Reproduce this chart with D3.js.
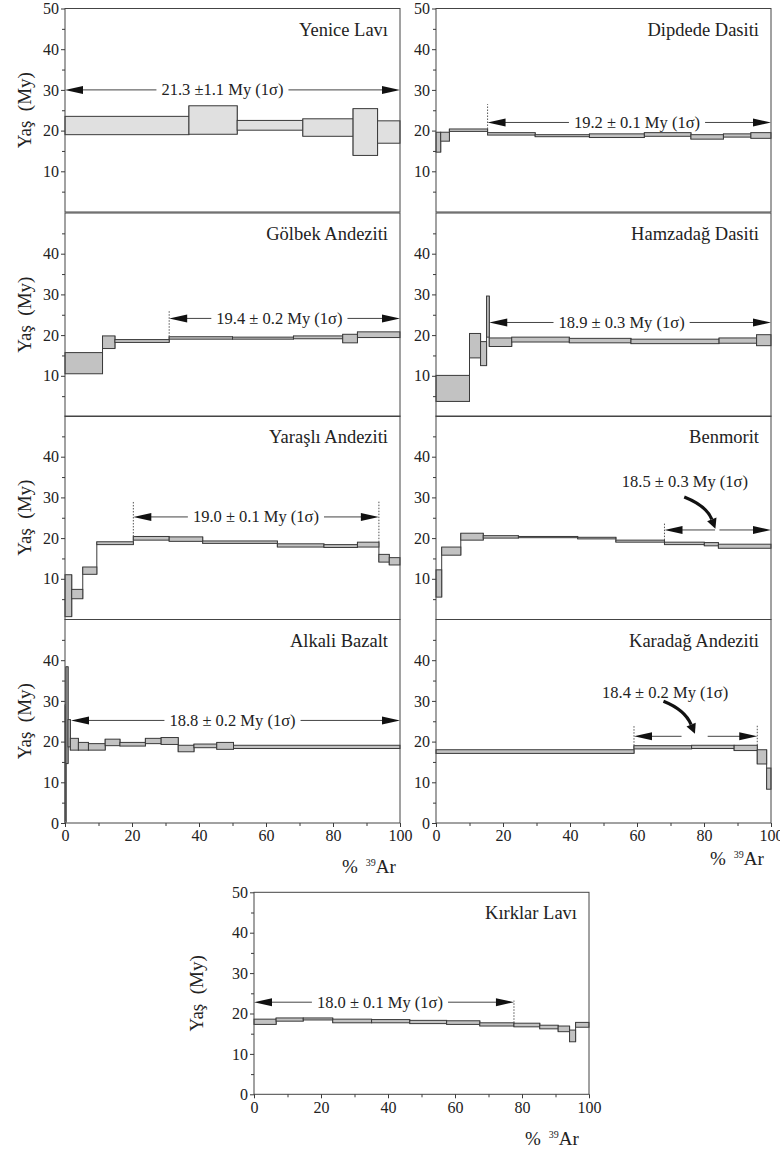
<!DOCTYPE html>
<html>
<head>
<meta charset="utf-8">
<script src="https://cdn.jsdelivr.net/npm/d3@7"></script>
</head>
<body style="margin:0;background:#fff">
<div class="canvas"></div>
<script>
// ---- data: step boundaries (cumulative % 39Ar), upper and lower age (My) of each step ----
const sampleNames = ['Yenice Lavı', 'Dipdede Dasiti', 'Gölbek Andeziti', 'Hamzadağ Dasiti',
    'Yaraşlı Andeziti', 'Benmorit', 'Alkali Bazalt', 'Karadağ Andeziti', 'Kırklar Lavı'];

const yeniceSteps = [0, 37, 51.4, 71, 86, 93.3, 100];
const yeniceHi = [23.5, 26.1, 22.5, 22.9, 25.4, 22.4];
const yeniceLo = [19.0, 19.1, 20.1, 18.6, 13.9, 16.9];

const dipdedeSteps = [0, 1.4, 4, 15.4, 29.6, 45.8, 62.2, 76.1, 85.8, 94, 100];
const dipdedeHi = [19.6, 19.6, 20.4, 19.5, 19.0, 19.2, 19.5, 19.0, 19.2, 19.5];
const dipdedeLo = [14.7, 17.4, 19.8, 18.9, 18.5, 18.3, 18.6, 17.9, 18.4, 18.1];

const golbekSteps = [0, 11.2, 14.9, 31.1, 50, 68.2, 82.9, 87.3, 100];
const golbekHi = [15.7, 19.8, 18.9, 19.6, 19.5, 19.8, 20.2, 20.8];
const golbekLo = [10.5, 16.7, 18.2, 19.0, 19.0, 19.1, 18.1, 19.4];

const hamzadagSteps = [0, 10, 13.3, 15.1, 15.9, 22.6, 39.8, 58.2, 84.5, 95.7, 100];
const hamzadagHi = [10.1, 20.4, 18.4, 29.6, 19.3, 19.5, 19.2, 19.0, 19.3, 20.1];
const hamzadagLo = [3.7, 14.4, 12.5, 19.5, 17.2, 18.3, 18.1, 17.9, 18.0, 17.4];

const yarasliSteps = [0, 2, 5.3, 9.5, 20.4, 31.1, 41.1, 63.4, 77.3, 87.3, 93.7, 96.8, 100];
const yarasliHi = [11.0, 7.4, 12.9, 19.1, 20.4, 20.3, 19.3, 18.6, 18.4, 19.0, 16.0, 15.2];
const yarasliLo = [0.7, 5.1, 11.1, 18.4, 19.5, 19.2, 18.7, 17.8, 17.7, 17.8, 14.1, 13.4];

const benmoritSteps = [0, 1.7, 7.4, 14.1, 24.6, 42.3, 53.7, 68.2, 80.1, 84.3, 100];
const benmoritHi = [12.2, 17.8, 21.2, 20.6, 20.4, 20.2, 19.5, 19.0, 18.9, 18.5];
const benmoritLo = [5.5, 15.8, 19.5, 20.0, 20.1, 19.8, 19.0, 18.4, 18.1, 17.5];

const alkaliSteps = [0, 0.3, 0.9, 1.6, 4, 7, 12, 16.4, 24, 28.7, 33.8, 38.5, 45.3, 50.3, 100];
const alkaliHi = [29.0, 38.4, 25.4, 20.8, 19.8, 19.5, 20.6, 19.8, 20.8, 21.0, 19.1, 19.4, 19.8, 19.1];
const alkaliLo = [0.2, 14.6, 18.7, 17.9, 17.9, 17.9, 19.0, 18.9, 19.5, 19.3, 17.5, 18.5, 18.1, 18.3];

const karadagSteps = [0, 59.1, 76.3, 89, 95.9, 98.7, 100];
const karadagHi = [18.0, 19.0, 19.1, 19.1, 18.0, 13.5];
const karadagLo = [17.1, 18.2, 18.3, 17.8, 14.5, 8.3];

const kirklarSteps = [0, 6.6, 14.7, 23.5, 35.1, 46.5, 57.5, 67.4, 77.6, 85.3, 90.8, 94.2, 96, 100];
const kirklarHi = [18.6, 18.9, 18.9, 18.6, 18.5, 18.3, 18.2, 17.7, 17.6, 17.1, 16.9, 15.9, 17.8];
const kirklarLo = [17.3, 18.1, 18.4, 17.7, 17.7, 17.5, 17.3, 16.9, 16.7, 16.2, 15.5, 13.0, 16.6];

// plateau ages
const plateauLabels = ['21.3 ±1.1 My (1σ)', '19.2 ± 0.1 My (1σ)', '19.4 ± 0.2 My (1σ)',
    '18.9 ± 0.3 My (1σ)', '19.0 ± 0.1 My (1σ)', '18.5 ± 0.3 My (1σ)', '18.8 ± 0.2 My (1σ)',
    '18.4 ± 0.2 My (1σ)', '18.0 ± 0.1 My (1σ)'];
const plateauFrom = [0, 15.4, 31.1, 15.9, 20.4, 68.2, 1.8, 59.1, 0];
const plateauTo = [100, 100, 100, 100, 93.7, 100, 100, 95.9, 77.6];
const plateauLevel = [30, 22, 24.1, 23.1, 25.2, 22, 25.2, 21.3, 22.8];
const plateauTextAt = [47, 60, 64, 55.4, 57, 74.3, 50, 68.4, 37.6];
const plateauTextAge = [null, null, null, null, null, 32.6, null, 30.7, null]; // text above, with curved arrow
const plateauGap = [null, null, null, null, null, [83.3, 84.6], null, [73.3, 81.1], null];
const dottedAt = [[], [15.4], [31.1], [], [20.4, 93.7], [68.2], [], [59.1, 95.9], [77.6]];
const dottedTop = [0, 26.5, 25.9, 0, 29, 23.9, 0, 24.1, 23.2];
// curved pointer arrows: start, bend, tip as [%39Ar, age]
const curveArrows = [null, null, null, null, null,
    [[74.1, 30.1], [80.8, 27.9], [83.4, 22.3]], null,
    [[67.9, 29.9], [74.3, 27.8], [77.3, 21.9]], null];

const xMajorTicks = [0, 20, 40, 60, 80, 100];
const xMinorTicks = [10, 30, 50, 70, 90];
const yMinorTicks = [5, 15, 25, 35, 45];

const samples = [
    [yeniceSteps, yeniceHi, yeniceLo], [dipdedeSteps, dipdedeHi, dipdedeLo],
    [golbekSteps, golbekHi, golbekLo], [hamzadagSteps, hamzadagHi, hamzadagLo],
    [yarasliSteps, yarasliHi, yarasliLo], [benmoritSteps, benmoritHi, benmoritLo],
    [alkaliSteps, alkaliHi, alkaliLo], [karadagSteps, karadagHi, karadagLo],
    [kirklarSteps, kirklarHi, kirklarLo]
];

// ---- layout ----
const COL_X = [65, 436];
const ROW_TOP = [8.5, 213, 416, 619.5];
const PANEL_W = 335;
const PANEL_H = 203.5;
const TEXT = '#222';
const LINE = '#3a3a3a';
const FONT = "'Liberation Serif', serif";

const svg = d3.select('.canvas')
    .append('svg')
    .style('display', 'block')
    .style('font-family', FONT)
    .attr('width', 780)
    .attr('height', 1149);

const panelBox = i => {
    if (i === 8) return { x0: 254, top: 892.3, h: 202, row: 4, col: 0 };
    return { x0: COL_X[i % 2], top: ROW_TOP[Math.floor(i / 2)], h: PANEL_H, row: Math.floor(i / 2), col: i % 2 };
};

const styleAxis = (sel, size) => {
    sel.select('.domain').remove();
    sel.attr('font-family', null).attr('font-size', null);
    sel.selectAll('line').attr('stroke', LINE);
    sel.selectAll('text').attr('fill', TEXT).style('font-family', FONT).style('font-size', size + 'px');
};

const addText = (parent, size) => parent.append('text')
    .attr('fill', TEXT)
    .style('font-family', FONT)
    .style('font-size', size + 'px');

const arrowHead = (g, xTip, yTip, dir) => {
    // dir = -1 points left, +1 points right
    const len = 18, half = 4;
    g.append('path')
        .attr('d', `M${xTip},${yTip}L${xTip - dir * len},${yTip - half}L${xTip - dir * len},${yTip + half}Z`)
        .attr('fill', '#111');
};

samples.forEach(([steps, hi, lo], i) => {
    const p = panelBox(i);
    const x = d3.scaleLinear().domain([0, 100]).range([p.x0, p.x0 + PANEL_W]);
    const y = d3.scaleLinear().domain([0, 50]).range([p.top + p.h, p.top]);
    const g = svg.append('g');

    const rows = hi.map((h, k) => ({ x0: steps[k], x1: steps[k + 1], hi: h, lo: lo[k] }));
    const fill = i === 0 ? '#e0e0e0' : '#c2c2c2';

    // vertical joins between consecutive steps
    const joins = d3.range(1, rows.length).map(k => ({
        at: steps[k],
        lo: Math.min(rows[k - 1].lo, rows[k].lo),
        hi: Math.max(rows[k - 1].hi, rows[k].hi)
    }));
    g.selectAll('line.join')
        .data(joins)
        .join('line')
        .attr('class', 'join')
        .attr('x1', d => x(d.at)).attr('x2', d => x(d.at))
        .attr('y1', d => y(d.lo)).attr('y2', d => y(d.hi))
        .attr('stroke', LINE).attr('stroke-width', 1);

    g.selectAll('rect.step')
        .data(rows)
        .join('rect')
        .attr('class', 'step')
        .attr('x', d => x(d.x0))
        .attr('width', d => x(d.x1) - x(d.x0))
        .attr('y', d => y(d.hi))
        .attr('height', d => y(d.lo) - y(d.hi))
        .attr('fill', fill)
        .attr('stroke', LINE)
        .attr('stroke-width', 1);

    // dotted limits of the plateau
    dottedAt[i].forEach(at => {
        const k = steps.indexOf(at);
        const base = Math.max(hi[k - 1] !== undefined ? hi[k - 1] : 0, hi[k] !== undefined ? hi[k] : 0);
        g.append('line')
            .attr('x1', x(at)).attr('x2', x(at))
            .attr('y1', y(base)).attr('y2', y(dottedTop[i]))
            .attr('stroke', '#555').attr('stroke-width', 1)
            .attr('stroke-dasharray', '1.5,1.5');
    });

    // plateau arrow and label
    const ly = y(plateauLevel[i]);
    const xa = x(plateauFrom[i]), xb = x(plateauTo[i]);
    const label = addText(g, 16.5)
        .attr('text-anchor', 'middle')
        .text(plateauLabels[i]);
    let gapA, gapB;
    if (plateauTextAge[i] === null) {
        label.attr('x', x(plateauTextAt[i])).attr('y', ly + 5.5);
        const w = label.node().getComputedTextLength();
        gapA = x(plateauTextAt[i]) - w / 2 - 5;
        gapB = x(plateauTextAt[i]) + w / 2 + 5;
    } else {
        label.attr('x', x(plateauTextAt[i])).attr('y', y(plateauTextAge[i]));
        gapA = x(plateauGap[i][0]);
        gapB = x(plateauGap[i][1]);
    }
    g.append('line').attr('x1', xa + 10).attr('x2', gapA).attr('y1', ly).attr('y2', ly)
        .attr('stroke', '#444').attr('stroke-width', 1);
    g.append('line').attr('x1', gapB).attr('x2', xb - 10).attr('y1', ly).attr('y2', ly)
        .attr('stroke', '#444').attr('stroke-width', 1);
    arrowHead(g, xa, ly, -1);
    arrowHead(g, xb, ly, 1);

    // curved pointer from the label to the plateau
    if (curveArrows[i]) {
        const [s, c, e] = curveArrows[i].map(d => [x(d[0]), y(d[1])]);
        const dx = e[0] - c[0], dy = e[1] - c[1];
        const n = Math.hypot(dx, dy);
        const ux = dx / n, uy = dy / n;
        const bx = e[0] - ux * 10, by = e[1] - uy * 10;
        g.append('path')
            .attr('d', `M${s[0]},${s[1]}Q${c[0]},${c[1]} ${bx},${by}`)
            .attr('fill', 'none').attr('stroke', '#111').attr('stroke-width', 3.2);
        g.append('path')
            .attr('d', `M${e[0]},${e[1]}L${bx - uy * 5},${by + ux * 5}L${bx + uy * 5},${by - ux * 5}Z`)
            .attr('fill', '#111');
    }

    // panel frame
    g.append('rect')
        .attr('x', p.x0).attr('y', p.top)
        .attr('width', PANEL_W).attr('height', p.h)
        .attr('fill', 'none').attr('stroke', '#444').attr('stroke-width', 1);

    // title
    addText(g, 18.5)
        .attr('x', x(100) - 12)
        .attr('y', p.top + 27)
        .attr('text-anchor', 'end')
        .text(sampleNames[i]);

    // y axis
    const yMajor = [10, 20, 30, 40];
    if (p.row === 0 || p.row === 4) yMajor.push(50);
    if (p.row >= 3) yMajor.unshift(0);
    g.append('g')
        .attr('transform', `translate(${p.x0},0)`)
        .call(d3.axisLeft(y).tickValues(yMinorTicks).tickSize(3).tickFormat(''))
        .call(sel => styleAxis(sel, 16));
    g.append('g')
        .attr('transform', `translate(${p.x0},0)`)
        .call(d3.axisLeft(y).tickValues(yMajor).tickSize(4).tickPadding(2).tickFormat(d3.format('d')))
        .call(sel => styleAxis(sel, 16));

    if (p.col === 0) {
        const cx = i === 8 ? 196 : 24;
        addText(g, 19)
            .attr('transform', `translate(${cx},${p.top + p.h / 2}) rotate(-90)`)
            .attr('text-anchor', 'middle')
            .attr('dy', '0.35em')
            .style('white-space', 'pre')
            .text('Yaş  (My)');
    }

    // x axis on the lowest panels
    if (p.row >= 3) {
        const yb = p.top + p.h;
        g.append('g')
            .attr('transform', `translate(0,${yb})`)
            .call(d3.axisBottom(x).tickValues(xMinorTicks).tickSize(3).tickFormat(''))
            .call(sel => styleAxis(sel, 16));
        g.append('g')
            .attr('transform', `translate(0,${yb})`)
            .call(d3.axisBottom(x).tickValues(xMajorTicks).tickSize(4).tickPadding(3).tickFormat(d3.format('d')))
            .call(sel => styleAxis(sel, 16));

        const pos = i === 6 ? [342, 873] : i === 7 ? [710, 865] : [525, 1145];
        const t = addText(svg, 19)
            .attr('x', pos[0]).attr('y', pos[1]);
        t.append('tspan').text('%');
        t.append('tspan').attr('dx', 8).attr('dy', -7).style('font-size', '10px').text('39');
        t.append('tspan').attr('dy', 7).text('Ar');
    }
});
</script>
</body>
</html>
